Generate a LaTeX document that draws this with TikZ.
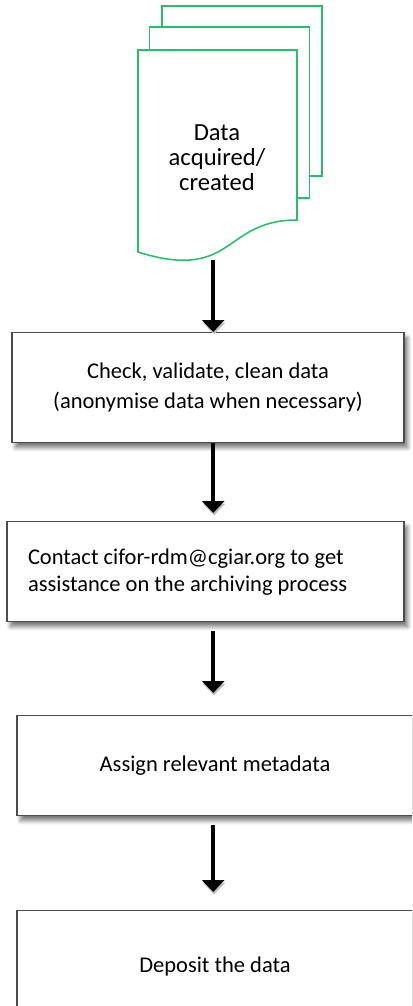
\documentclass[tikz,border=0pt]{standalone}
\usepackage{fontspec}
\setmainfont{Carlito}
\usetikzlibrary{arrows.meta,positioning,calc,shadows.blur}
\definecolor{sheetgreen}{RGB}{40,190,110}
\tikzset{
  sheet/.style = {draw=sheetgreen, line width=1.1pt, fill=white},
  proc/.style  = {draw=black!70, line width=0.9pt, rectangle, fill=white,
                  align=center, font=\fontsize{16}{21.3}\selectfont,
                  blur shadow={shadow xshift=2.5pt, shadow yshift=-3.5pt,
                               shadow blur steps=8, shadow blur radius=3pt,
                               shadow opacity=55}},
  arr/.style   = {-{Triangle[width=0.55cm,length=0.3cm]}, line width=3.2pt,
                  preaction={draw=black!25, transform canvas={xshift=0.6pt,yshift=-1.8pt}}},
}

\begin{document}
\begin{tikzpicture}
\useasboundingbox (0,0) rectangle (10.3,-25.15);
\clip (0,0) rectangle (10.3,-25.15);

%% ---- stacked documents -----------------------------------------------
\draw[sheet] (4.05,-0.15) rectangle (8.05,-4.4);
\draw[sheet] (3.74,-0.68) rectangle (7.74,-4.95);
\draw[sheet] (3.45,-1.25) -- (7.425,-1.25) -- (7.425,-5.5)
  .. controls (6.375,-5.5) and (6.0,-6.0) .. (5.45,-6.3)
  .. controls (4.875,-6.6) and (4.25,-6.55) .. (3.45,-6.3) -- cycle;
\node[font=\fontsize{17.5}{17.8}\selectfont, align=center] (acq) at (5.425,-3.95)
  {Data\\acquired/\\created};
\coordinate (docbot) at (5.33,-6.5);

%% ---- process boxes ---------------------------------------------------
\node[proc, anchor=north, minimum width=9.8cm, minimum height=2.75cm] (chk)
  at (5.2,-8.3)
  {Check, validate, clean data\\(anonymise data when necessary)};

\node[proc, anchor=north, minimum width=9.925cm, minimum height=2.5cm,
      inner xsep=0.525cm, text width=8.875cm, align=flush left,
      font=\fontsize{16}{19.2}\selectfont] (contact)
  at (5.1375,-13.025)
  {Contact cifor-rdm@cgiar.org to get\\assistance on the archiving process};

%% the last two boxes end right at the edge
\node[proc, anchor=north, minimum width=9.9cm, minimum height=2.5cm] (meta)
  at (5.375,-17.875) {Assign relevant metadata};

\node[proc, anchor=north, minimum width=9.9cm, minimum height=2.8cm] (dep)
  at (5.375,-22.75) {Deposit the data};

%% ---- arrows ----------------------------------------------------------
\draw[arr] (docbot) -- (docbot |- chk.north);
\draw[arr, shorten >=0.2cm] (chk.south -| docbot) -- (contact.north -| docbot);
\draw[arr, shorten <=0.22cm, shorten >=0.55cm]
  (contact.south -| docbot) -- (meta.north -| docbot);
\draw[arr, shorten <=0.22cm, shorten >=0.45cm]
  (meta.south -| docbot) -- (dep.north -| docbot);
\end{tikzpicture}
\end{document}
